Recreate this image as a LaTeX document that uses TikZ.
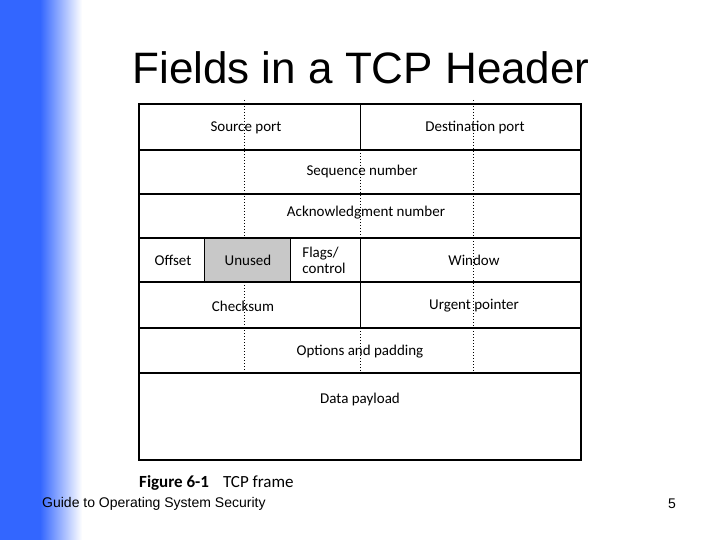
\documentclass[tikz,border=0pt]{standalone}
\usepackage{fontspec}
\setmainfont{Liberation Sans}
\newfontfamily\carlitofont{Carlito}
\definecolor{sideblue}{RGB}{51,102,255}
\definecolor{unusedgray}{RGB}{200,200,200}
\begin{document}
\begin{tikzpicture}[x=1pt,y=-1pt,
  lbl/.style={font=\carlitofont\fontsize{15}{16}\selectfont, inner sep=0pt},
  solid line/.style={line width=1.6pt},
  thin line/.style={line width=1pt},
  dots/.style={line width=1pt, dotted}]
\useasboundingbox (0,0) rectangle (720,540);
\fill[sideblue] (0,0) rectangle (40,540);
\shade[left color=sideblue, right color=white] (40,0) rectangle (82,540);
\node[font=\fontsize{44}{48}\selectfont, inner sep=0pt] (title) at (361,68) {Fields in a TCP Header};
% shaded cell
\fill[unusedgray] (204,238) rectangle (290,282);
% outer & rows
\draw[solid line] (139,104) rectangle (581,460);
\foreach \y in {150,194,238,282,328,373} \draw[solid line] (139,\y) -- (581,\y);
% verticals
\draw[thin line] (360,104) -- (360,150);
\draw[thin line] (360,238) -- (360,328);
\draw[thin line] (204,238) -- (204,282);
\draw[thin line] (290,238) -- (290,282);
% dotted
\draw[dots] (244,100) -- (244,238);
\draw[dots] (244,282) -- (244,373);
\draw[dots] (473,100) -- (473,373);
\draw[dots] (360,150) -- (360,238);
\draw[dots] (360,328) -- (360,373);
% labels
\node[lbl] (sp) at (246,128) {Source port};
\node[lbl] (dp) at (475,128) {Destination port};
\node[lbl] (sn) at (362,172) {Sequence number};
\node[lbl] (an) at (366,213) {Acknowledgment number};
\node[lbl] (of) at (173,260) {Offset};
\node[lbl] (un) at (248,260) {Unused};
\node[lbl, align=left] (fl) at (324,260) {Flags/\\control};
\node[lbl] (wi) at (474,260) {Window};
\node[lbl] (cs) at (243,306) {Checksum};
\node[lbl] (up) at (474,306) {Urgent pointer};
\node[lbl] (op) at (360,352) {Options and padding};
\node[lbl] (dl) at (360,399) {Data payload};
\node[anchor=west, inner sep=0pt, font=\carlitofont\fontsize{17}{18}\selectfont] (cap) at (139,483) {\textbf{Figure 6-1}\hspace{14pt}TCP frame};
\node[anchor=west, inner sep=0pt, font=\fontsize{14}{15}\selectfont] (foot) at (42,504) {Guide to Operating System Security};
\node[inner sep=0pt, font=\fontsize{14}{15}\selectfont] (pg) at (672,504) {5};
\end{tikzpicture}
\end{document}
